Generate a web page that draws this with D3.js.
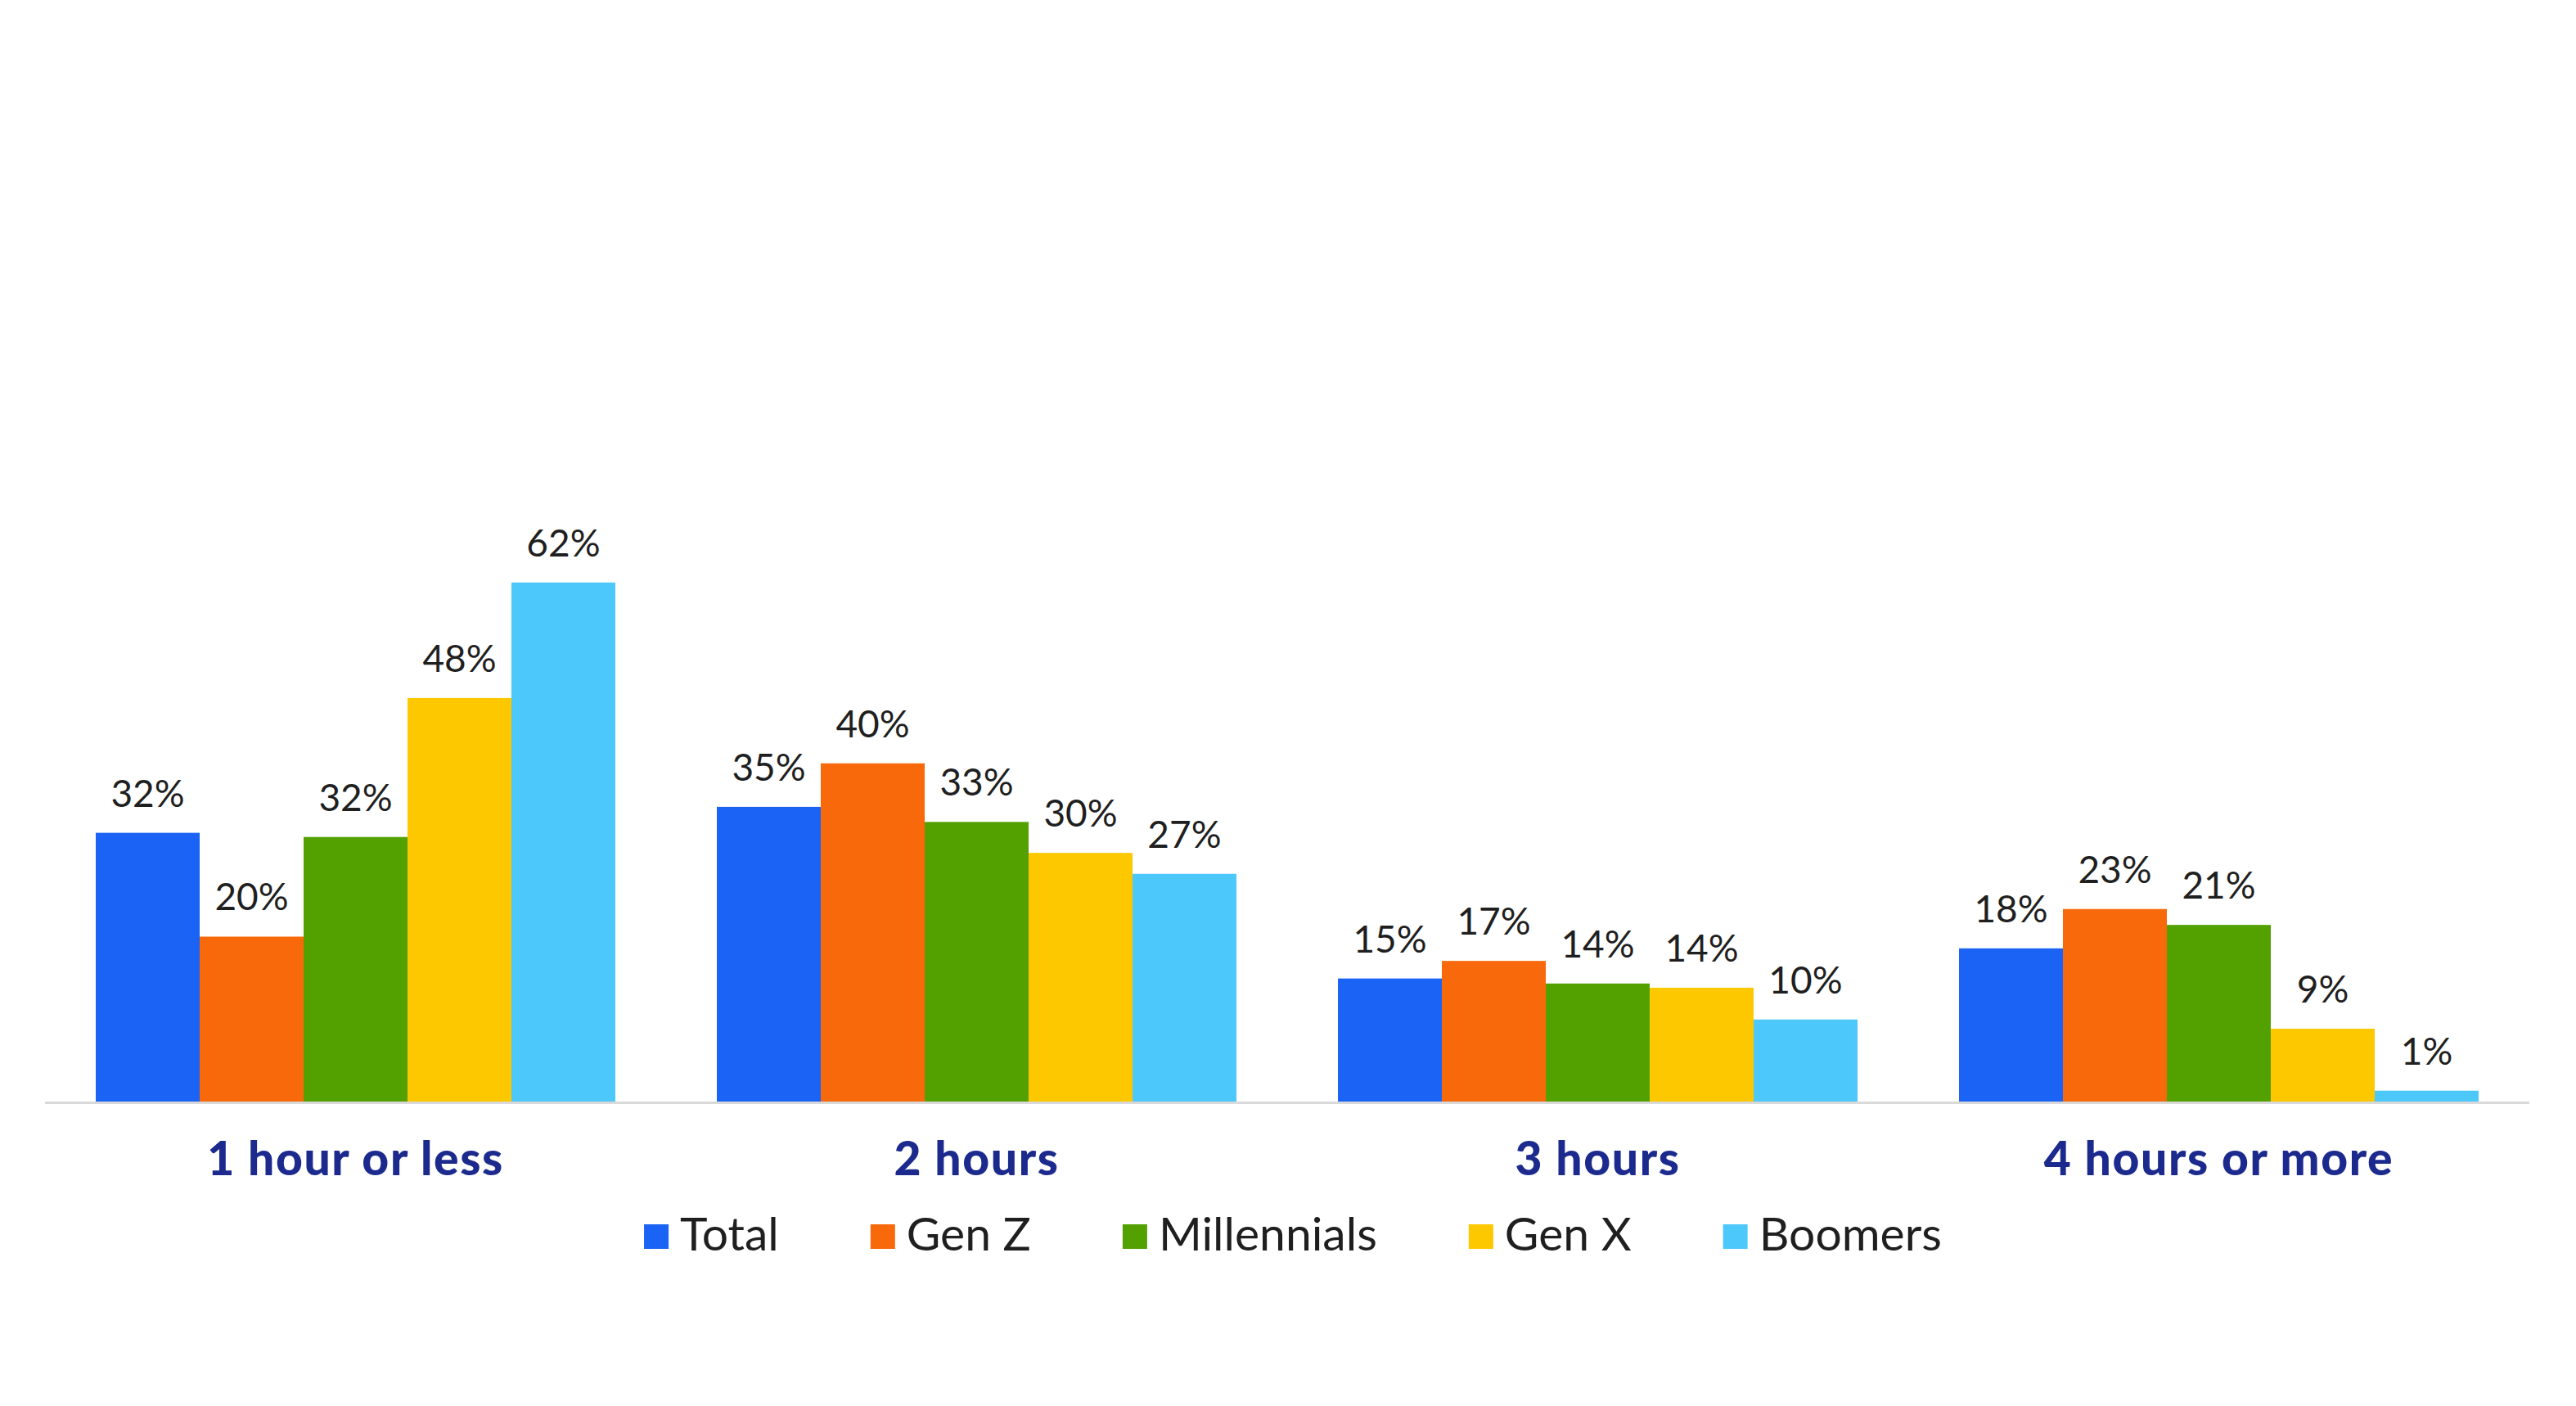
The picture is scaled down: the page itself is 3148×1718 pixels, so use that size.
<!DOCTYPE html>
<html>
<head>
<meta charset="utf-8">
<script src="https://cdn.jsdelivr.net/npm/d3@7"></script>
<style>
  html, body { margin: 0; padding: 0; background: #fff; }
  svg { display: block; }
</style>
</head>
<body>
<div id="chart"></div>
<script>
const categories = ["1 hour or less", "2 hours", "3 hours", "4 hours or more"];
const seriesNames = ["Total", "Gen Z", "Millennials", "Gen X", "Boomers"];
const seriesColors = ["#1a63f4", "#f7690b", "#53a100", "#fec800", "#4dc8fb"];

// percent values per series, in category order
const total = [32.1, 35.2, 14.7, 18.3];
const genZ = [19.7, 40.4, 16.8, 23.0];
const millennials = [31.6, 33.4, 14.1, 21.1];
const genX = [48.2, 29.7, 13.6, 8.7];
const boomers = [62.0, 27.2, 9.8, 1.3];

const seriesValues = [total, genZ, millennials, genX, boomers];

const width = 3148;
const height = 1718;
const baseY = 1346;

const svg = d3.select("#chart").append("svg")
  .attr("width", width).attr("height", height)
  .style("background", "#fff");

const x = d3.scaleBand()
  .domain(categories)
  .range([55, 3091])
  .paddingInner(0.1634)
  .paddingOuter(0.0817);

const xInner = d3.scaleBand()
  .domain(seriesNames)
  .range([0, x.bandwidth()]);

const y = d3.scaleLinear().domain([0, 100]).range([baseY, baseY - 1023]);

// flat table for the bars
const rows = [];
categories.forEach((c, i) => {
  seriesNames.forEach((s, j) => {
    rows.push({ cat: c, series: s, value: seriesValues[j][i], color: seriesColors[j] });
  });
});

const g = svg.append("g");

g.selectAll("rect.bar")
  .data(rows)
  .join("rect")
  .attr("class", "bar")
  .attr("x", d => x(d.cat) + xInner(d.series))
  .attr("y", d => y(d.value))
  .attr("width", xInner.bandwidth())
  .attr("height", d => y(0) - y(d.value))
  .attr("fill", d => d.color);

// value labels
g.selectAll("text.val")
  .data(rows)
  .join("text")
  .attr("class", "val")
  .attr("x", d => x(d.cat) + xInner(d.series) + xInner.bandwidth() / 2)
  .attr("y", d => y(d.value) - 32)
  .attr("text-anchor", "middle")
  .style("font-family", "Lato, 'Open Sans', sans-serif")
  .style("font-size", "46px")
  .style("fill", "#1f1f1f")
  .text(d => Math.round(d.value) + "%");

// baseline
svg.append("line")
  .attr("x1", 55).attr("x2", 3091)
  .attr("y1", baseY + 1.5).attr("y2", baseY + 1.5)
  .attr("stroke", "#d9d9d9")
  .attr("stroke-width", 3);

// category labels
const xAxis = svg.append("g")
  .attr("transform", `translate(0, ${baseY})`)
  .call(d3.axisBottom(x).tickSize(0).tickPadding(0));
xAxis.select(".domain").remove();
xAxis.selectAll("text")
  .attr("y", 90)
  .attr("dy", null)
  .style("font-family", "Lato, 'Open Sans', sans-serif")
  .style("font-weight", "900")
  .style("font-size", "57px")
  .style("letter-spacing", "1.6px")
  .style("fill", "#1c2a8e");

// legend
const legend = svg.append("g");
const items = legend.selectAll("g.item")
  .data(seriesNames)
  .join("g")
  .attr("class", "item");

items.append("rect")
  .attr("width", 30).attr("height", 30)
  .attr("y", 1496)
  .attr("fill", (d, i) => seriesColors[i]);

items.append("text")
  .attr("x", 44)
  .attr("y", 1528)
  .style("font-family", "Lato, 'Open Sans', sans-serif")
  .style("font-size", "57px")
  .style("fill", "#1f1f1f")
  .text(d => d);

let cursor = 0;
items.each(function() {
  const w = this.getBBox().width;
  d3.select(this).attr("transform", `translate(${cursor}, 0)`);
  cursor += w + 112;
});
const legendWidth = cursor - 112;
legend.attr("transform", `translate(${1580 - legendWidth / 2}, 0)`);
</script>
</body>
</html>
